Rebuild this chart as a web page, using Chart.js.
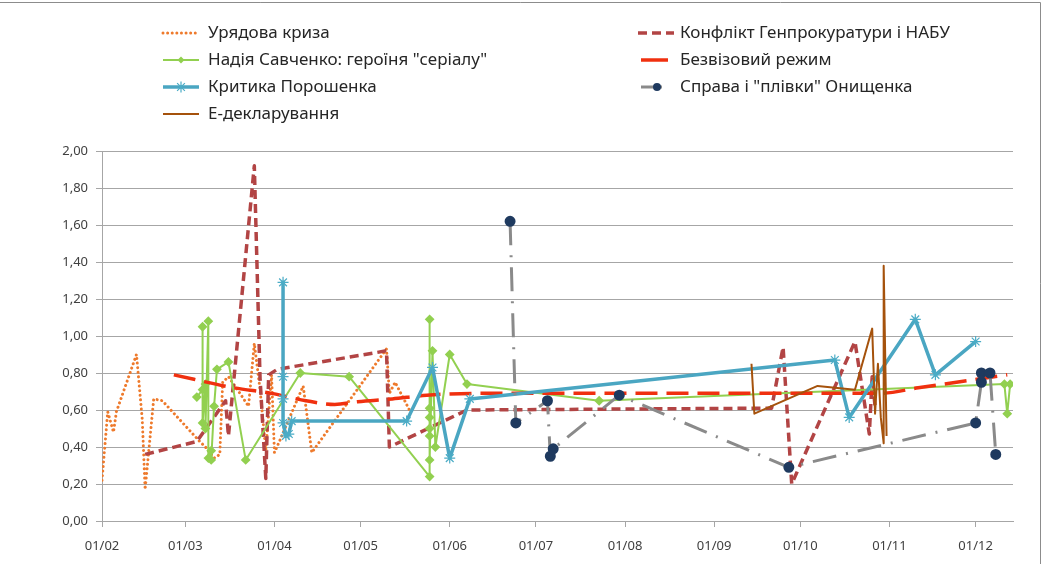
<!DOCTYPE html>
<html>
<head>
<meta charset="utf-8">
<script src="https://cdn.jsdelivr.net/npm/chart.js@4.4.1/dist/chart.umd.min.js"></script>
<style>
  html, body { margin: 0; padding: 0; background: #fff; }
  #wrap { width: 1057px; height: 564px; }
</style>
</head>
<body>
<div id="wrap"><canvas id="chart" width="1057" height="564"></canvas></div>
<script>
// ---- data (dates are MM-DD of 2016, axis starts 01/02) ----
const tickDates = ['02-01', '03-01', '04-01', '05-01', '06-01', '07-01', '08-01', '09-01', '10-01', '11-01', '12-01'];
const tickLabels = ['01/02', '01/03', '01/04', '01/05', '01/06', '01/07', '01/08', '01/09', '01/10', '01/11', '01/12'];
const axisEnd = '12-14';

const seriesNames = [
  'Урядова криза',
  'Конфлікт Генпрокуратури і НАБУ',
  'Надія Савченко: героїня "серіалу"',
  'Безвізовий режим',
  'Критика Порошенка',
  'Справа і "плівки" Онищенка',
  'Е-декларування'
];

const crisisDates = ['02-01', '02-03', '02-05', '02-06', '02-13', '02-15', '02-16', '02-19', '02-22', '03-06', '03-08', '03-11', '03-13', '03-14', '03-16', '03-20', '03-23', '03-25', '03-27', '03-29', '03-31', '04-01', '04-03', '04-11', '04-14', '05-10', '05-11', '05-13', '05-17', '05-18'];
const crisisValues = [0.22, 0.59, 0.48, 0.59, 0.90, 0.55, 0.17, 0.66, 0.65, 0.43, 0.40, 0.34, 0.36, 0.75, 0.78, 0.69, 0.62, 0.96, 0.71, 0.38, 0.79, 0.37, 0.44, 0.73, 0.37, 0.93, 0.69, 0.75, 0.63, 0.60];

const conflictDates = ['02-16', '03-05', '03-15', '03-16', '03-25', '03-27', '03-29', '03-30', '04-02', '05-10', '05-11', '06-07', '09-21', '09-25', '09-28', '10-20', '10-25', '10-26', '10-27'];
const conflictValues = [0.36, 0.43, 0.65, 0.46, 1.92, 0.77, 0.23, 0.79, 0.82, 0.92, 0.40, 0.60, 0.61, 0.94, 0.20, 0.97, 0.47, 0.78, 0.62];

const savchenkoDates = ['03-05', '03-07', '03-07', '03-07', '03-08', '03-08', '03-09', '03-09', '03-10', '03-10', '03-11', '03-12', '03-16', '03-22', '04-10', '04-27', '05-25', '05-25', '05-25', '05-25', '05-25', '05-25', '05-25', '05-26', '05-27', '06-01', '06-07', '07-23', '12-11', '12-12', '12-13'];
const savchenkoValues = [0.67, 0.71, 1.05, 0.53, 0.74, 0.50, 1.08, 0.34, 0.38, 0.33, 0.62, 0.82, 0.86, 0.33, 0.80, 0.78, 0.24, 1.09, 0.61, 0.56, 0.50, 0.46, 0.33, 0.92, 0.40, 0.90, 0.74, 0.65, 0.74, 0.58, 0.74];

const visaDates = ['02-26', '03-18', '03-31', '04-12', '04-22', '04-30', '05-12', '05-24', '06-11', '10-29', '11-11', '12-12'];
const visaValues = [0.79, 0.72, 0.69, 0.65, 0.63, 0.645, 0.66, 0.68, 0.69, 0.69, 0.72, 0.79];

const poroshenkoDates = ['04-04', '04-04', '04-04', '04-04', '04-05', '04-06', '04-07', '05-17', '05-26', '06-01', '06-08', '10-13', '10-18', '11-10', '11-17', '12-01'];
const poroshenkoValues = [1.29, 0.78, 0.66, 0.53, 0.46, 0.47, 0.54, 0.54, 0.83, 0.34, 0.66, 0.87, 0.56, 1.09, 0.79, 0.97];

const onyshchenkoDates = ['06-22', '06-24', '07-05', '07-06', '07-07', '07-30', '09-27', '12-01', '12-03', '12-03', '12-06', '12-08'];
const onyshchenkoValues = [1.62, 0.53, 0.65, 0.35, 0.39, 0.68, 0.29, 0.53, 0.75, 0.80, 0.80, 0.36];

const declDates = ['09-14', '09-15', '10-07', '10-20', '10-26', '10-27', '10-28', '10-29', '10-30', '10-30', '10-31'];
const declValues = [0.85, 0.58, 0.73, 0.71, 1.04, 0.58, 0.85, 0.56, 0.42, 1.38, 0.46];

// ---- helpers ----
const YEAR = 2016;
function day(md) {
  const [m, d] = md.split('-').map(Number);
  return (Date.UTC(YEAR, m - 1, d) - Date.UTC(YEAR, 1, 1)) / 86400000;
}
const pts = (dates, values) => dates.map((d, i) => ({ x: day(d), y: values[i] }));

const tickDays = tickDates.map(day);
const FONT = '"Noto Sans", "Open Sans", sans-serif';
const GRID = '#a6a6a6';

const datasets = [
  {
    label: seriesNames[0], data: pts(crisisDates, crisisValues),
    borderColor: '#ee7a2c', borderWidth: 3, borderDash: [0.01, 4.6], borderCapStyle: 'round',
    pointRadius: 0, order: 7
  },
  {
    label: seriesNames[1], data: pts(conflictDates, conflictValues),
    borderColor: '#b24444', borderWidth: 3.5, borderDash: [9, 5],
    pointRadius: 0, order: 6
  },
  {
    label: seriesNames[2], data: pts(savchenkoDates, savchenkoValues),
    borderColor: '#92d050', borderWidth: 2, pointStyle: 'rectRot', pointRadius: 3.5,
    pointBackgroundColor: '#92d050', pointBorderColor: '#92d050', order: 5
  },
  {
    label: seriesNames[3], data: pts(visaDates, visaValues),
    borderColor: '#f0300f', borderWidth: 3.5, borderDash: [22, 9], cubicInterpolationMode: 'monotone',
    pointRadius: 0, order: 4
  },
  {
    label: seriesNames[4], data: pts(poroshenkoDates, poroshenkoValues),
    borderColor: '#4aa6c2', borderWidth: 3.5, pointStyle: 'star', pointRadius: 5.5,
    pointBorderColor: '#4bacc6', pointBackgroundColor: '#4bacc6', pointBorderWidth: 1.2, order: 3
  },
  {
    label: seriesNames[5], data: pts(onyshchenkoDates, onyshchenkoValues),
    borderColor: '#8a8a8a', borderWidth: 3, borderDash: [24, 10, 2, 10],
    pointStyle: 'circle', pointRadius: 4, pointBackgroundColor: '#1f3a5f', pointBorderColor: '#1f3a5f', order: 2
  },
  {
    label: seriesNames[6], data: pts(declDates, declValues),
    borderColor: '#a5520c', borderWidth: 2, pointRadius: 0, order: 1
  }
];

// legend in two columns, drawn like the Excel one
const legendPlugin = {
  id: 'colLegend',
  afterDraw(chart) {
    const ctx = chart.ctx;
    const colX = [163, 638], textX = [208, 680];
    ctx.save();
    chart.data.datasets.forEach((ds, i) => {
      const col = i % 2, row = Math.floor(i / 2);
      const y = 33 + row * 27;
      let x0 = colX[col], x1 = x0 + 36;
      let dash = ds.borderDash || [];
      if (i === 3) { x0 = 641; x1 = 668; dash = []; }
      if (i === 5) { x0 = 641; x1 = 662; dash = []; }
      ctx.strokeStyle = ds.borderColor;
      ctx.lineWidth = ds.borderWidth;
      ctx.lineCap = ds.borderCapStyle || 'butt';
      ctx.setLineDash(dash);
      ctx.beginPath(); ctx.moveTo(x0, y); ctx.lineTo(x1, y); ctx.stroke();
      ctx.setLineDash([]);
      ctx.lineCap = 'butt';
      const mx = i === 5 ? 657 : (x0 + x1) / 2;
      if (ds.pointStyle === 'rectRot') {
        ctx.fillStyle = ds.pointBackgroundColor;
        ctx.beginPath();
        ctx.moveTo(mx, y - 3.5); ctx.lineTo(mx + 3.5, y); ctx.lineTo(mx, y + 3.5); ctx.lineTo(mx - 3.5, y);
        ctx.closePath(); ctx.fill();
      } else if (ds.pointStyle === 'star') {
        ctx.strokeStyle = ds.pointBorderColor; ctx.lineWidth = 1.2;
        const r = 5.5, d = r * Math.SQRT1_2;
        ctx.beginPath();
        ctx.moveTo(mx, y - r); ctx.lineTo(mx, y + r);
        ctx.moveTo(mx - d, y - d); ctx.lineTo(mx + d, y + d);
        ctx.moveTo(mx - d, y + d); ctx.lineTo(mx + d, y - d);
        ctx.stroke();
      } else if (ds.pointStyle === 'circle') {
        ctx.fillStyle = ds.pointBackgroundColor;
        ctx.beginPath(); ctx.arc(mx, y, 4, 0, Math.PI * 2); ctx.fill();
      }
      ctx.fillStyle = '#262626';
      ctx.font = '17px ' + FONT;
      ctx.textBaseline = 'middle';
      ctx.textAlign = 'left';
      ctx.fillText(ds.label, textX[col], y);
    });
    ctx.restore();
  }
};

const framePlugin = {
  id: 'frame',
  beforeDraw(chart) {
    const ctx = chart.ctx;
    ctx.save();
    ctx.fillStyle = '#fff';
    ctx.fillRect(0, 0, chart.width, chart.height);
    ctx.strokeStyle = '#8c8c8c';
    ctx.lineWidth = 1;
    ctx.beginPath();
    ctx.moveTo(0, 2.5); ctx.lineTo(1040.5, 2.5); ctx.lineTo(1040.5, 564);
    ctx.stroke();
    ctx.restore();
  }
};

new Chart(document.getElementById('chart'), {
  type: 'line',
  data: { datasets },
  plugins: [framePlugin, legendPlugin],
  options: {
    responsive: false,
    animation: false,
    events: [],
    layout: { padding: { left: 0, top: 151, right: 44, bottom: 0 } },
    plugins: { legend: { display: false }, tooltip: { enabled: false } },
    elements: { line: { tension: 0, borderJoinStyle: 'round' } },
    scales: {
      x: {
        type: 'linear',
        min: 0,
        max: day(axisEnd),
        afterFit: (s) => { s.height = 43; },
        afterBuildTicks: (s) => { s.ticks = tickDays.map(v => ({ value: v })); },
        ticks: {
          autoSkip: false, maxRotation: 0, padding: 11,
          color: '#404040', font: { family: FONT, size: 13 },
          callback: (v) => tickLabels[tickDays.indexOf(v)]
        },
        grid: { drawOnChartArea: false, drawTicks: true, tickLength: 6, color: GRID },
        border: { display: true, color: GRID }
      },
      y: {
        min: 0,
        max: 2,
        afterFit: (s) => { s.width = 102; },
        ticks: {
          stepSize: 0.2, padding: 8,
          color: '#404040', font: { family: FONT, size: 13 },
          callback: (v) => v.toFixed(2).replace('.', ',')
        },
        grid: { color: GRID, tickLength: 6, drawTicks: true },
        border: { display: true, color: GRID }
      }
    }
  }
});
</script>
</body>
</html>
